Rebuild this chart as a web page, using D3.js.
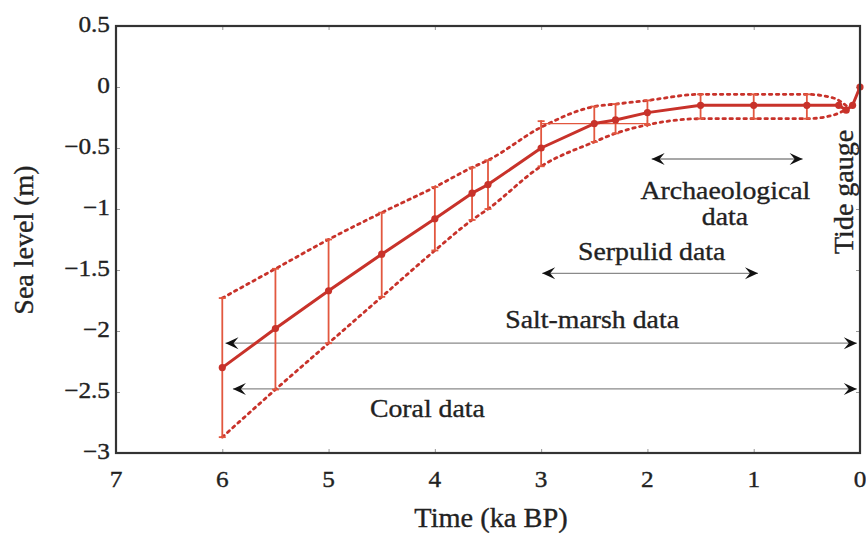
<!DOCTYPE html>
<html><head><meta charset="utf-8">
<script src="https://cdn.jsdelivr.net/npm/d3@7"></script>
<style>body{margin:0;background:#fff}svg{display:block}text{font-family:"Liberation Serif","Times New Roman",serif;fill:#222;stroke:#222;stroke-width:0.35px}</style>
</head><body><svg id="c" width="866" height="535"></svg>
<script>
// ---- data ----
const timeKa = [6, 5.5, 5, 4.5, 4, 3.65, 3.5, 3, 2.5, 2.3, 2, 1.5, 1, 0.5, 0.2, 0.13, 0.07, 0];
const seaLevel = [-2.3, -1.98, -1.67, -1.37, -1.08, -0.87, -0.8, -0.5, -0.3, -0.27, -0.21, -0.15, -0.15, -0.15, -0.15, -0.19, -0.15, 0];
const errTime = [6, 5.5, 5, 4.5, 4, 3.65, 3.5, 3, 2.5, 2.3, 2, 1.5, 1, 0.5];
const errHigh = [-1.73, -1.49, -1.25, -1.03, -0.82, -0.66, -0.60, -0.28, -0.16, -0.14, -0.11, -0.06, -0.06, -0.06];
const errLow = [-2.87, -2.48, -2.10, -1.72, -1.34, -1.09, -1.00, -0.65, -0.45, -0.38, -0.31, -0.26, -0.26, -0.26];
const boundTime = [6, 5.5, 5, 4.5, 4, 3.65, 3.5, 3, 2.5, 2.3, 2, 1.5, 1, 0.5, 0.25, 0.12];
const upperBound = [-1.73, -1.49, -1.25, -1.03, -0.82, -0.66, -0.60, -0.33, -0.16, -0.14, -0.11, -0.06, -0.06, -0.06, -0.09, -0.16];
const lowerBound = [-2.87, -2.48, -2.10, -1.72, -1.34, -1.09, -1.00, -0.65, -0.45, -0.38, -0.31, -0.26, -0.26, -0.26, -0.23, -0.18];
const hErr = {from: 3.0, to: 2.0, level: -0.3};
const xTicks = [7, 6, 5, 4, 3, 2, 1, 0];
const yTicks = [0.5, 0, -0.5, -1, -1.5, -2, -2.5, -3];
const ranges = [
  {name: "Archaeological", from: 1.96, to: 0.54, level: -0.59},
  {name: "Serpulid", from: 2.99, to: 0.96, level: -1.527},
  {name: "Salt-marsh", from: 5.97, to: 0.03, level: -2.1},
  {name: "Coral", from: 5.9, to: 0.03, level: -2.475}
];
const notes = [
  {text: "Archaeological", t: 1.266, v: -0.92},
  {text: "data", t: 1.27, v: -1.131},
  {text: "Serpulid data", t: 1.96, v: -1.418},
  {text: "Salt-marsh data", t: 2.52, v: -1.975},
  {text: "Coral data", t: 4.07, v: -2.705}
];
const sideNote = {text: "Tide gauge", t: 0.066, v: -0.86};

// ---- layout ----
const L = 116, R = 860, T = 26, B = 453;
const svg = d3.select("#c");
const x = d3.scaleLinear().domain([7, 0]).range([L, R]);
const y = d3.scaleLinear().domain([0.5, -3]).range([T, B]);
const fmt = d3.format("");
const red = "#c8322a", redLight = "#e2573f";
const SX = 1.1;

function txt(g, px, py, s, size, anchor, sx, rot) {
  return g.append("text")
    .attr("transform", `translate(${px},${py}) rotate(${rot||0}) scale(${sx},1)`)
    .attr("text-anchor", anchor).attr("font-size", size).text(s);
}

// arrow markers
const defs = svg.append("defs");
defs.append("marker").attr("id", "ah").attr("viewBox", "-14 -7 16 14")
  .attr("refX", 0).attr("refY", 0).attr("markerWidth", 16).attr("markerHeight", 14)
  .attr("markerUnits", "userSpaceOnUse").attr("orient", "auto-start-reverse")
  .append("path").attr("d", "M0,0 L-13,-6 L-8,0 L-13,6 Z").attr("fill", "#111");

// axes ticks (inward)
const axG = svg.append("g");
const tickColor = "#999";
const bottomAxis = d3.axisBottom(x).tickValues(xTicks).tickSize(-4).tickFormat("");
const topAxis = d3.axisTop(x).tickValues(xTicks).tickSize(-4).tickFormat("");
const leftAxis = d3.axisLeft(y).tickValues(yTicks).tickSize(-4).tickFormat("");
const rightAxis = d3.axisRight(y).tickValues(yTicks).tickSize(-4).tickFormat("");
[[bottomAxis, `0,${B}`], [topAxis, `0,${T}`], [leftAxis, `${L},0`], [rightAxis, `${R},0`]].forEach(([a, tr]) => {
  const g = axG.append("g").attr("transform", `translate(${tr})`).call(a);
  g.select(".domain").remove();
  g.selectAll(".tick line").attr("stroke", tickColor).attr("stroke-width", 1);
});

// tick labels
xTicks.forEach(t => txt(svg, x(t), B + 34, fmt(t), 23, "middle", SX));
yTicks.forEach(v => txt(svg, L - 6, y(v) + 6, fmt(v), 23, "end", SX));

// range arrows
const arrG = svg.append("g");
ranges.forEach(r => {
  arrG.append("line").attr("x1", x(r.from)).attr("x2", x(r.to))
    .attr("y1", y(r.level)).attr("y2", y(r.level))
    .attr("stroke", "#8a8a8a").attr("stroke-width", 1.3)
    .attr("marker-start", "url(#ah)").attr("marker-end", "url(#ah)");
});

// bounds (dashed)
const bx = boundTime.map(t => x(t));
const lineB = d3.line().curve(d3.curveMonotoneX);
[upperBound, lowerBound].forEach(arr => {
  svg.append("path").attr("d", lineB(arr.map((v, i) => [bx[i], y(v)])))
    .attr("fill", "none").attr("stroke", red).attr("stroke-width", 2.8)
    .attr("stroke-dasharray", "2.5,4.5").attr("stroke-linecap", "round");
});

// error bars
const eg = svg.append("g").attr("stroke", redLight).attr("stroke-width", 1.8);
errTime.forEach((t, i) => {
  const px = x(t);
  eg.append("line").attr("x1", px).attr("x2", px).attr("y1", y(errHigh[i])).attr("y2", y(errLow[i]));
  [errHigh[i], errLow[i]].forEach(v => eg.append("line").attr("x1", px - 3.5).attr("x2", px + 3.5).attr("y1", y(v)).attr("y2", y(v)));
});
// horizontal error
eg.append("line").attr("x1", x(hErr.from)).attr("x2", x(hErr.to)).attr("y1", y(hErr.level)).attr("y2", y(hErr.level)).attr("stroke-width", 1.3);
[hErr.from, hErr.to].forEach(t => eg.append("line").attr("x1", x(t)).attr("x2", x(t)).attr("y1", y(hErr.level) - 3.5).attr("y2", y(hErr.level) + 3.5).attr("stroke-width", 1.3));

// center line
svg.append("path").attr("d", d3.line()(timeKa.map((t, i) => [x(t), y(seaLevel[i])])))
  .attr("fill", "none").attr("stroke", red).attr("stroke-width", 3).attr("stroke-linejoin", "round");
svg.append("g").selectAll("circle").data(timeKa).join("circle")
  .attr("cx", d => x(d)).attr("cy", (d, i) => y(seaLevel[i])).attr("r", 3.6).attr("fill", red);

// frame
svg.append("rect").attr("x", L).attr("y", T).attr("width", R - L).attr("height", B - T)
  .attr("fill", "none").attr("stroke", "#333").attr("stroke-width", 2.2);

// annotations
notes.forEach(n => txt(svg, x(n.t), y(n.v), n.text, 26, "middle", 1.07));
txt(svg, x(sideNote.t), y(sideNote.v), sideNote.text, 28, "middle", 1, -90);

// axis titles
txt(svg, 491, 527, "Time (ka BP)", 27, "middle", 1.05);
txt(svg, 33, 240, "Sea level (m)", 28, "middle", 1, -90);
</script></body></html>
